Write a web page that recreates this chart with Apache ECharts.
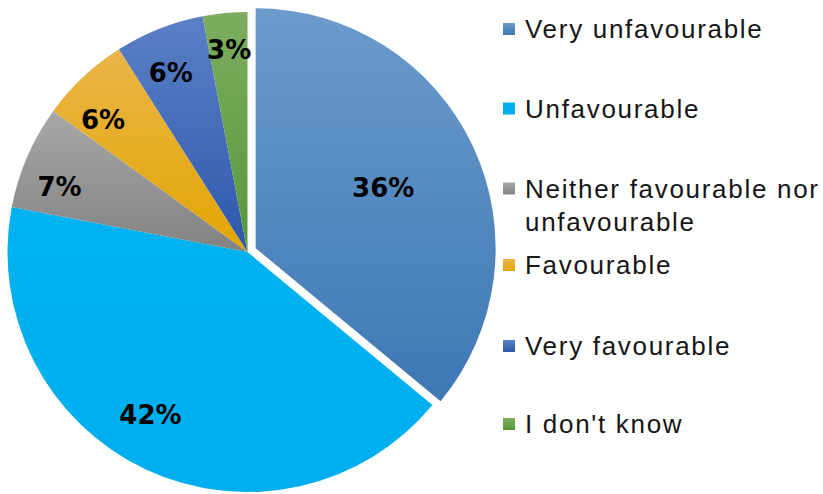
<!DOCTYPE html>
<html>
<head>
<meta charset="utf-8">
<script src="https://cdn.jsdelivr.net/npm/echarts@6/dist/echarts.min.js"></script>
<style>
html, body { margin: 0; padding: 0; background: #ffffff; }
#chart { width: 823px; height: 494px; }
#chart text:not([style*="bold"]) { letter-spacing: 1.7px; }
</style>
</head>
<body>
<div id="chart"></div>
<script>
// ---- data ----
const categories = [
  'Very unfavourable',
  'Unfavourable',
  'Neither favourable nor unfavourable',
  'Favourable',
  'Very favourable',
  "I don't know"
];
const values = [36, 42, 7, 6, 6, 3];
const legendText = [
  'Very unfavourable',
  'Unfavourable',
  '\nNeither favourable nor\nunfavourable',
  'Favourable',
  'Very favourable',
  "I don't know"
];

// ---- styles ----
const gradients = [
  ['#6c9bcb', '#3d78b5'],
  ['#00b2f0', '#00aeef'],
  ['#a8a8a8', '#828282'],
  ['#eab54a', '#e3a500'],
  ['#5b80c6', '#2d58ab'],
  ['#7dad60', '#56983a']
];
const legendCenters = [29, 108.5, 188.5, 265, 346, 424];
// small label nudges (px) to mimic the original label placement
const labelNudge = [[0, 0], [-14, -13], [-9, 12], [-11, 10], [-5, 2], [0, -8]];

const chart = echarts.init(document.getElementById('chart'), null, { renderer: 'svg' });

const cx = 247.5, cy = 252, R = 240;

function grad(i) {
  return new echarts.graphic.LinearGradient(0, 0, 0, 1, [
    { offset: 0, color: gradients[i][0] },
    { offset: 1, color: gradients[i][1] }
  ]);
}

const mainData = categories.map((name, i) => ({
  name: name,
  value: values[i],
  selected: i === 0,
  itemStyle: { color: grad(i) }
}));

function labelData(showFn) {
  return categories.map((name, i) => ({
    name: name,
    value: values[i],
    selected: i === 0,
    label: { show: showFn(i) }
  }));
}

const labelStyle = {
  position: 'inside',
  formatter: '{c}%',
  color: '#000000',
  fontFamily: 'DejaVu Sans',
  fontWeight: 'bold',
  fontSize: 26
};

const legends = categories.map((name, i) => {
  const isMulti = legendText[i].indexOf('\n') >= 0;
  const lh = isMulti ? 33 : 30;
  const nLines = legendText[i].split('\n').length;
  return {
    data: [name],
    orient: 'vertical',
    left: 503,
    top: legendCenters[i] - (lh * nLines) / 2,
    padding: 0,
    itemWidth: 12,
    itemHeight: 12,
    icon: 'rect',
    selectedMode: false,
    formatter: function () { return legendText[i]; },
    textStyle: {
      fontFamily: 'Liberation Sans',
      fontSize: 26,
      color: '#161616',
      lineHeight: lh,
      padding: [0, 0, 0, 5]
    }
  };
});

const common = {
  type: 'pie',
  center: [cx, cy],
  startAngle: 90,
  clockwise: true,
  selectedMode: 'single',
  selectedOffset: 9,
  avoidLabelOverlap: false,
  animation: false,
  emphasis: { disabled: true },
  labelLine: { show: false }
};

function nudge(params) {
  const n = labelNudge[params.dataIndex];
  return { dx: n[0], dy: n[1] };
}

chart.setOption({
  backgroundColor: '#ffffff',
  legend: legends,
  series: [
    Object.assign({}, common, {
      name: 'main',
      radius: [0, R],
      label: { show: false },
      itemStyle: { borderWidth: 0 },
      data: mainData
    }),
    Object.assign({}, common, {
      name: 'labelsOuter',
      radius: [R * 0.6, R],
      silent: true,
      itemStyle: { color: 'rgba(0,0,0,0)' },
      label: labelStyle,
      labelLayout: nudge,
      data: labelData(i => i !== 0)
    }),
    Object.assign({}, common, {
      name: 'labelsInner',
      radius: [R * 0.15, R],
      silent: true,
      itemStyle: { color: 'rgba(0,0,0,0)' },
      label: labelStyle,
      labelLayout: nudge,
      data: labelData(i => i === 0)
    })
  ]
});
</script>
</body>
</html>
